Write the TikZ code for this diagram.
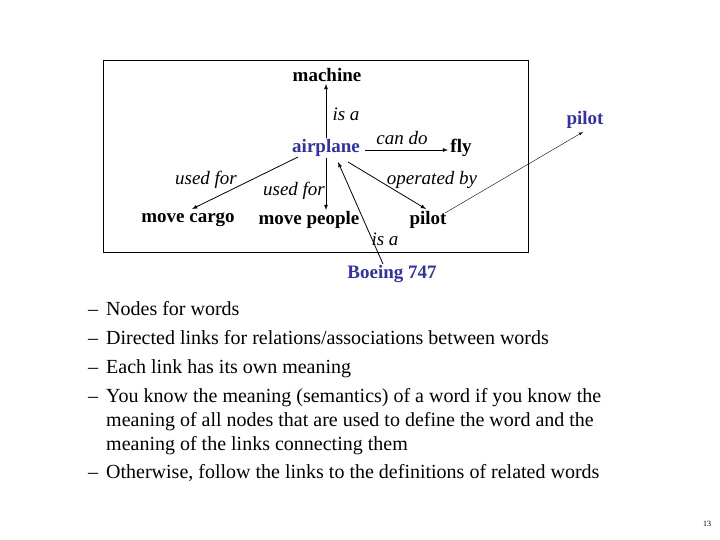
\documentclass[tikz,border=0pt]{standalone}
\usepackage{fontspec}
\setmainfont{Liberation Serif}
\begin{document}
\begin{tikzpicture}[x=1pt,y=-1pt,
  w/.style={font=\fontsize{19}{21}\selectfont\bfseries,inner sep=1pt},
  b/.style={w,text=blu},
  l/.style={font=\fontsize{19}{21}\selectfont\itshape,inner sep=1pt},
  a/.style={-latex,thick},
  bl/.style={anchor=north west,font=\fontsize{20}{24}\selectfont,inner sep=0pt,align=left}]
\definecolor{blu}{RGB}{51,51,153}
\useasboundingbox (0,0) rectangle (720,540);
\draw (103,60) rectangle (528,252);
\node[w] (machine) at (327,75) {machine};
\node[b] (airplane) at (326,148) {airplane};
\node[w] (fly) at (461,148) {fly};
\node[w] (cargo) at (188,220) {move cargo};
\node[w] (people) at (309,220) {move people};
\node[w] (pilot) at (428,220) {pilot};
\node[b] (pilot2) at (585,120) {pilot};
\node[b] (boeing) at (392,274) {Boeing 747};
\coordinate (s1) at (326,138); \coordinate (e1) at (326,84);
\coordinate (s2) at (365,150); \coordinate (e2) at (448,150);
\coordinate (s3) at (298,157); \coordinate (e3) at (192,209);
\coordinate (s4) at (326,158); \coordinate (e4) at (326,210);
\coordinate (s5) at (348,162); \coordinate (e5) at (426,209);
\coordinate (s6) at (383,264); \coordinate (e6) at (338,162);
\coordinate (s7) at (445,213); \coordinate (e7) at (583,132);
\draw[a] (s1) -- (e1);
\draw[a] (s2) -- (e2);
\draw[a] (s3) -- (e3);
\draw[a] (s4) -- (e4);
\draw[a] (s5) -- (e5);
\draw[a] (s6) -- (e6);
\draw[-latex] (s7) -- (e7);
\node[l] (l1) at (346,114) {is a};
\node[l] (l2) at (402,138) {can do};
\node[l] (l3) at (206,180) {used for};
\node[l] (l4) at (294,191) {used for};
\node[l] (l5) at (432,180) {operated by};
\node[l] (l6) at (385,239) {is a};
\node[bl] (t1) at (88,301) {\makebox[18pt][l]{--}Nodes for words};
\node[bl] (t2) at (88,330) {\makebox[18pt][l]{--}Directed links for relations/associations between words};
\node[bl] (t3) at (88,359) {\makebox[18pt][l]{--}Each link has its own meaning};
\node[bl] (t4) at (88,388) {\makebox[18pt][l]{--}You know the meaning (semantics) of a word if you know the\\
  \hspace*{18pt}meaning of all nodes that are used to define the word and the\\
  \hspace*{18pt}meaning of the links connecting them};
\node[bl] (t5) at (88,464) {\makebox[18pt][l]{--}Otherwise, follow the links to the definitions of related words};
\node[font=\fontsize{8}{9}\selectfont] (pg) at (707,524) {13};
\end{tikzpicture}
\end{document}
